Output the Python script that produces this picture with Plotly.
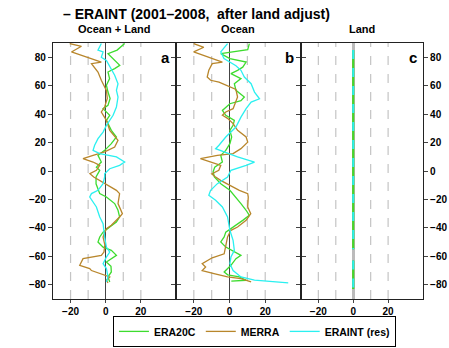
import plotly.graph_objects as go

# ---- data: zonal-mean differences (W m-2) vs latitude ----
# Panel a: Ocean + Land
lat_a_era20c = [89.6, 87, 85, 82.5, 76.6, 74.3, 72, 69.6, 65, 60.3, 55.5, 51, 46.2, 43.8, 39.2, 35.6,
                28.6, 23.9, 19.2, 14.5, 11, 6.3, 2.7, 0.5, -4.2, -9, -15.9, -18.3, -22.9, -27.6, -32.3,
                -35.9, -39.4, -43, -46.4, -49.9, -53.5, -55.8, -59.3, -61.6, -64, -67, -71, -74.5, -78]
val_a_era20c = [10.8, 8.5, 6.5, 1.3, 6.1, 8.0, 5.1, 1.3, 2.2, 0.4, 1.3, 2.5, 1.3, -1.5, 2.3, 0.4,
                3.2, 6.1, 3.2, -0.6, -4.4, -2.5, -5.3, -3.4, -5.5, -5.5, -3.4, 0.4, 5.1, 7.0, 7.9,
                6.1, 2.3, -1.5, -3.4, -4.4, -1.5, 3.2, 6.1, 3.2, 0.4, 3.0, 3.2, 1.3, 2.3]

lat_a_merra = [89.6, 87.7, 83.7, 76.6, 75.5, 69.6, 63.8, 56.7, 51, 45, 41.5, 35.6, 28.6, 21.6, 16.9,
               13.4, 11, 8.7, 6.3, 4.0, 0.5, -1.9, -4.2, -8.9, -13.6, -15.9, -22.9, -30, -32.3, -38.2,
               -40.6, -43, -46.4, -52, -57, -59.3, -61.6, -66.3, -68.6, -70, -72.1, -74.5, -76.8, -78.7]
val_a_merra = [-20.5, -13.8, -19.5, -2.5, -8.1, -4.4, -2.5, 0.4, 0.9, -0.6, -2.5, 0.4, 2.3, 7.0, 5.1,
               -0.6, -7.2, -12.9, -7.2, -3.4, -5.3, -9.0, -6.8, -0.6, 6.1, 7.9, 7.0, 9.5, 7.9, 3.2,
               0.4, -0.6, -1.5, -0.5, -1.0, -2.5, -12.9, -14.8, -9.1, -8.1, -3.4, 2.3, 0.4, 1.3]

lat_a_eraint = [89.6, 85, 83.7, 80, 77.8, 72, 67.3, 61.4, 56.7, 52, 45, 39.2, 35.6, 32.1, 27.4, 22.7,
                18.1, 14.5, 12.2, 9.9, 6.3, 4, 1.6, -1.9, -4.2, -8.9, -13.6, -15.9, -18.3, -21.8,
                -25.3, -32.3, -37, -46.4, -53.5, -57, -60.5, -65.2, -68.6, -74.5, -78]
val_a_eraint = [-2.5, -4.4, -1.5, -2.5, 0.4, 3.2, 5.1, 7.0, 6.1, 7.0, 6.1, 4.2, 2.3, 0.4, -1.5, -4.4,
                -6.3, -7.2, -3.4, 6.1, 10.8, 7.9, 2.3, -0.6, -0.6, -1.5, -4.4, -8.1, -9.1, -7.2,
                -5.3, -3.4, -1.5, -0.6, 0.4, 2.3, 0.4, -1.5, 0.4, 1.3, 0.4]

# Panel b: Ocean
lat_b_era20c = [89.6, 85.3, 82.5, 79, 76.6, 73, 70.8, 68.5, 65, 61.4, 56.7, 52, 49.5, 47.3, 42.6, 39.2,
                35.6, 32.1, 28.6, 23.9, 19.2, 14.5, 11, 6.3, 2.7, -0.5, -4.2, -8.9, -13.6, -18.3,
                -22.9, -27.6, -31.2, -34.7, -39.4, -43, -46.4, -49.9, -53.5, -57, -59.3, -61.6,
                -66.3, -71, -73, -74.5, -76.8, -77.5]
val_b_era20c = [11.1, 10.2, -4.9, 0.2, 9.3, 7.4, 4.5, 0.8, 6.4, 2.7, 3.6, 8.3, 6.4, 0.2, -4.0, -2.1,
                2.7, 2.0, 0.2, 1.2, 0.2, -2.1, -4.9, -4.0, -8.3, -9.2, -8.5, -4.9, 0.2, 3.6,
                6.4, 9.3, 11.1, 7.4, 2.0, -2.1, -3.0, -4.9, -2.1, 3.6, 6.4, 3.6,
                0.8, -3.0, -1.0, 5.5, 9.3, 1.0]

lat_b_merra = [89.6, 87, 83.7, 76.6, 75.5, 70.8, 66.1, 63.8, 62.5, 59.6, 57.3, 52, 48.5, 43.8, 41.5,
               39.2, 37, 33.3, 28.6, 23.9, 20.3, 15.7, 12.2, 11, 8.7, 6.3, 4, 0.5, -2, -4, -6.6,
               -13.6, -15.9, -18.3, -25.3, -30, -34.7, -39.4, -41.7, -46.4, -53.5, -58.2, -61,
               -65.2, -67.5, -70, -72.1, -74.5, -75.7, -78]
val_b_merra = [-20.1, -14.4, -20.1, -4.0, -9.7, -11.6, -12.5, -10.6, -5.9, -0.2, 3.6, 4.5, 3.6, 2.0, -2.1,
               -4.0, -1.1, 2.0, 4.5, 9.3, 10.2, 6.4, 2.0, -6.8, -16.3, -10.6, -4.9, -6.0, -10.0, -8.0, -5.0,
               5.5, 10.2, 10.5, 10.2, 11.9, 9.3, 4.5, 0.8, -1.1, -2.1, -3.0, -9.7,
               -15.3, -13.4, -15.3, -8.7, -1.1, 6.4, 12.1]

lat_b_eraint = [89.6, 83.7, 79, 76.6, 74, 70.8, 66.1, 61.4, 55.5, 50.8, 48.5, 43.8, 37.9, 30.9, 23.9,
                18.1, 15.7, 13.4, 9.9, 6.3, 4, 0.5, -4.2, -8.9, -13.6, -17.1, -20.6, -25.3, -32.3,
                -41.7, -48.8, -55.8, -60.5, -65.2, -70, -74.5, -76.8, -78.7]
val_b_eraint = [-1.1, -4.9, -3.1, 0.2, 3.6, 6.4, 8.3, 12.1, 14.0, 16.8, 12.1, 9.3, 6.4, 3.6, -2.1,
                -5.9, -7.8, -3.0, 4.5, 14.0, 9.3, 0.8, -1.1, -6.8, -10.6, -11.6, -7.8, -4.0, -1.1,
                0.2, 2.0, 2.7, 0.8, 0.2, 2.0, 6.4, 14.0, 32.9]

# Panel c: Land (identical after adjustment -> zero everywhere land exists)
lat_c = [85, -55, None, -63, -83]
val_c = [0, 0, None, 0, 0]

series_names = ["ERA20C", "MERRA", "ERAINT (res)"]
series_colors = ["#3ddc2e", "#b8862b", "#2af0f0"]
panel_titles = ["Ocean + Land", "Ocean", "Land"]
panel_letters = ["a", "b", "c"]
x_ticks = [-20, 0, 20]
y_ticks = [-80, -60, -40, -20, 0, 20, 40, 60, 80]
dash_grid = [-20, -10, 10, 20]
x_range = [-30, 40]
y_range = [-90, 90]

FONT = "Liberation Sans"

panels = [
    [(val_a_era20c, lat_a_era20c), (val_a_merra, lat_a_merra), (val_a_eraint, lat_a_eraint)],
    [(val_b_era20c, lat_b_era20c), (val_b_merra, lat_b_merra), (val_b_eraint, lat_b_eraint)],
    [(val_c, lat_c), (val_c, lat_c), (val_c, lat_c)],
]

domains = [[0.0, 0.3324], [0.3324, 0.670], [0.670, 1.0]]

fig = go.Figure()

for p, series in enumerate(panels):
    xa = "x" if p == 0 else f"x{p+1}"
    ya = "y" if p == 0 else f"y{p+1}"
    # in the land panel MERRA sits underneath, ERAINT dashed on top of ERA20C
    order = [1, 0, 2] if p == 2 else [0, 1, 2]
    for s in order:
        vals, lats = series[s]
        if p == 2:
            width = 2.0
            dash = "dash" if s == 2 else "solid"
        else:
            width = 1.3
            dash = "solid"
        fig.add_trace(go.Scatter(
            x=vals, y=lats, mode="lines", name=series_names[s],
            line=dict(color=series_colors[s], width=width, dash=dash),
            showlegend=(p == 0), xaxis=xa, yaxis=ya, connectgaps=False,
        ))

layout = dict(
    width=449, height=348,
    margin=dict(l=53, r=26, t=43, b=49, autoexpand=False),
    plot_bgcolor="white", paper_bgcolor="white",
    font=dict(family=FONT, size=10, color="black"),
    showlegend=True,
    legend=dict(
        orientation="h", x=0.162, xanchor="left", y=-0.066, yanchor="top",
        bordercolor="black", borderwidth=1,
        font=dict(family=FONT, size=10.5, color="black", weight="bold"),
        itemwidth=30, tracegroupgap=0,
    ),
)

for p in range(3):
    sx = "" if p == 0 else str(p + 1)
    zl_color = "#bbbbbb" if p == 2 else "#444444"
    zl_width = 3 if p == 2 else 1
    layout["xaxis" + sx] = dict(
        domain=domains[p], range=x_range, tickvals=x_ticks,
        ticks="outside", ticklen=3, showgrid=False,
        zeroline=True, zerolinecolor=zl_color, zerolinewidth=zl_width,
        showline=True, linecolor="#222222", linewidth=1.2, mirror=True,
        tickfont=dict(family=FONT, size=10, weight="bold"),
        anchor="y" + sx, fixedrange=True,
    )
    layout["yaxis" + sx] = dict(
        range=y_range, tickvals=y_ticks,
        ticks="outside", ticklen=4, showgrid=False, zeroline=False,
        showline=True, linecolor="#222222", linewidth=1.2, mirror="ticks",
        showticklabels=(p != 1),
        side="right" if p == 2 else "left",
        tickfont=dict(family=FONT, size=10, weight="bold"),
        anchor="x" + sx, fixedrange=True,
    )

fig.update_layout(**layout)

# dashed vertical reference lines
for p in range(3):
    sx = "" if p == 0 else str(p + 1)
    for g in dash_grid:
        fig.add_shape(type="line", xref="x" + sx, yref="y" + sx,
                      x0=g, x1=g, y0=y_range[0], y1=y_range[1],
                      line=dict(color="#c4c4c4", width=1.2, dash="dash"), layer="below")

# title and panel headings
fig.add_annotation(text="– ERAINT (2001–2008,  after land adjust)", xref="paper", yref="paper",
                   x=0.022, y=1.115, xanchor="left", yanchor="middle", showarrow=False,
                   font=dict(family=FONT, size=14, weight="bold"))
for p in range(3):
    d = domains[p]
    fig.add_annotation(text=panel_titles[p], xref="paper", yref="paper",
                       x=(d[0] + d[1]) / 2, y=1.053, xanchor="center", yanchor="middle",
                       showarrow=False, font=dict(family=FONT, size=11, weight="bold"))
    sx = "" if p == 0 else str(p + 1)
    fig.add_annotation(text=panel_letters[p], xref="x" + sx, yref="y" + sx,
                       x=37.5, y=80, xanchor="right", yanchor="middle", showarrow=False,
                       font=dict(family=FONT, size=15, weight="bold"))

fig.write_html("out.html")
